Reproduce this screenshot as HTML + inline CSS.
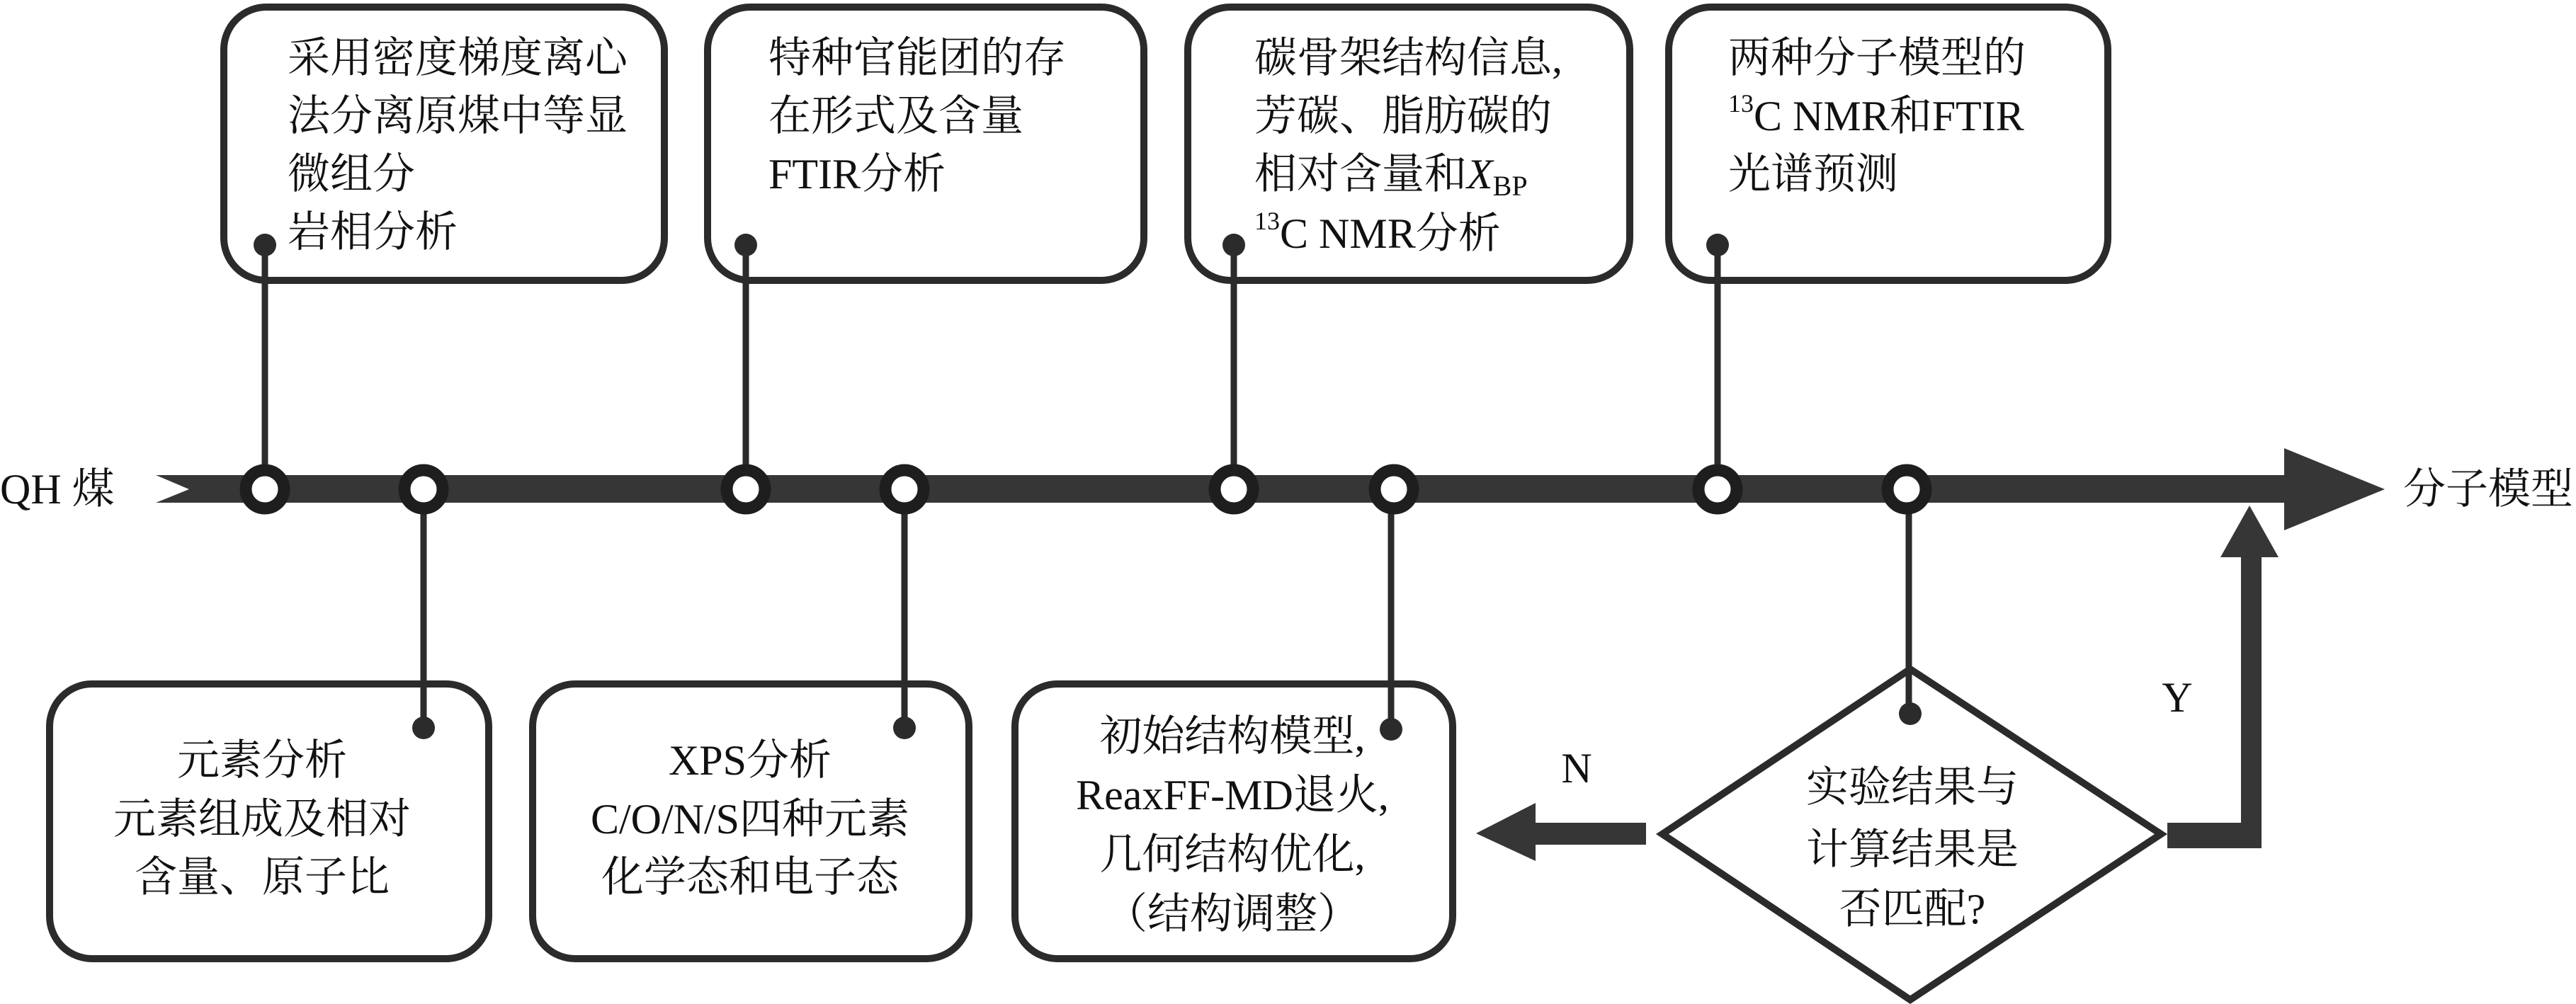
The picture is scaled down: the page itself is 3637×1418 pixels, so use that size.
<!DOCTYPE html>
<html><head><meta charset="utf-8"><style>
html,body{margin:0;padding:0;background:#fff;}
svg{display:block;}
text{font-family:"Liberation Serif","Noto Serif CJK SC",serif;font-size:60px;fill:#111;}
</style></head><body>
<svg width="3637" height="1418" viewBox="0 0 3637 1418" xmlns="http://www.w3.org/2000/svg">
<g fill="none" stroke="#2b2b2b" stroke-width="10">
<rect x="316" y="10" width="622" height="386" rx="60"/>
<rect x="999" y="10" width="616" height="386" rx="60"/>
<rect x="1677" y="10" width="624" height="386" rx="60"/>
<rect x="2356" y="10" width="620" height="386" rx="60"/>
<rect x="70" y="966" width="620" height="388" rx="60"/>
<rect x="752" y="966" width="616" height="388" rx="60"/>
<rect x="1433" y="966" width="618" height="388" rx="60"/>
<polygon points="2697,945 3051,1178 2697,1412 2347,1178"/>
</g>
<!-- main bar -->
<polygon points="220,671 3225,671 3225,633 3367,691 3225,749 3225,710 220,710 267,691" fill="#363636"/>
<!-- pins -->
<g stroke="#2b2b2b" stroke-width="9">
<line x1="374" y1="346" x2="374" y2="691"/>
<line x1="1053" y1="346" x2="1053" y2="691"/>
<line x1="1742" y1="346" x2="1742" y2="691"/>
<line x1="2425" y1="346" x2="2425" y2="691"/>
<line x1="598" y1="691" x2="598" y2="1028"/>
<line x1="1277" y1="691" x2="1277" y2="1028"/>
<line x1="1964" y1="691" x2="1964" y2="1030"/>
<line x1="2695" y1="691" x2="2695" y2="1008"/>
</g>
<g fill="#2b2b2b">
<circle cx="374" cy="346" r="16"/><circle cx="1053" cy="346" r="16"/>
<circle cx="1742" cy="346" r="16"/><circle cx="2425" cy="346" r="16"/>
<circle cx="598" cy="1028" r="16"/><circle cx="1277" cy="1028" r="16"/>
<circle cx="1964" cy="1030" r="16"/><circle cx="2697" cy="1008" r="16"/>
</g>
<g fill="#fff" stroke="#1e1e1e" stroke-width="17">
<circle cx="374" cy="691" r="27"/><circle cx="598" cy="691" r="27"/>
<circle cx="1053" cy="691" r="27"/><circle cx="1277" cy="691" r="27"/>
<circle cx="1742" cy="691" r="27"/><circle cx="1968" cy="691" r="27"/>
<circle cx="2425" cy="691" r="27"/><circle cx="2692" cy="691" r="27"/>
</g>
<!-- N arrow -->
<polygon points="2324,1162 2168,1162 2168,1134 2084,1177 2168,1216 2168,1193 2324,1193" fill="#363636"/>
<!-- Y arrow -->
<polygon points="3060,1162 3164,1162 3164,787 3135,787 3176,714 3217,787 3193,787 3193,1198 3060,1198" fill="#363636"/>
<g dominant-baseline="central">
<text x="0" y="691">QH 煤</text>
<text x="3393" y="691">分子模型</text>
<text x="406" y="82">采用密度梯度离心</text>
<text x="406" y="164">法分离原煤中等显</text>
<text x="406" y="246">微组分</text>
<text x="406" y="328">岩相分析</text>
<text x="1085" y="82">特种官能团的存</text>
<text x="1085" y="164">在形式及含量</text>
<text x="1085" y="246">FTIR分析</text>
<text x="1771" y="82">碳骨架结构信息,</text>
<text x="1771" y="164">芳碳、脂肪碳的</text>
<text x="1771" y="246">相对含量和<tspan font-style="italic">X</tspan><tspan font-size="40" dy="16">BP</tspan></text>
<text x="1771" y="330"><tspan font-size="36" dy="-18">13</tspan><tspan dy="18">C NMR分析</tspan></text>
<text x="2440" y="82">两种分子模型的</text>
<text x="2440" y="164"><tspan font-size="36" dy="-18">13</tspan><tspan dy="18">C NMR和FTIR</tspan></text>
<text x="2440" y="246">光谱预测</text>
<g text-anchor="middle">
<text x="370" y="1074">元素分析</text>
<text x="370" y="1157">元素组成及相对</text>
<text x="370" y="1239">含量、原子比</text>
<text x="1059" y="1074">XPS分析</text>
<text x="1059" y="1157">C/O/N/S四种元素</text>
<text x="1059" y="1239">化学态和电子态</text>
<text x="1740" y="1040">初始结构模型,</text>
<text x="1740" y="1123">ReaxFF-MD退火,</text>
<text x="1740" y="1207">几何结构优化,</text>
<text x="1740" y="1291">（结构调整）</text>
<text x="2700" y="1112">实验结果与</text>
<text x="2700" y="1200">计算结果是</text>
<text x="2700" y="1284">否匹配?</text>
<text x="2226" y="1085">N</text>
<text x="3074" y="985">Y</text>
</g>
</g>
</svg>
</body></html>
